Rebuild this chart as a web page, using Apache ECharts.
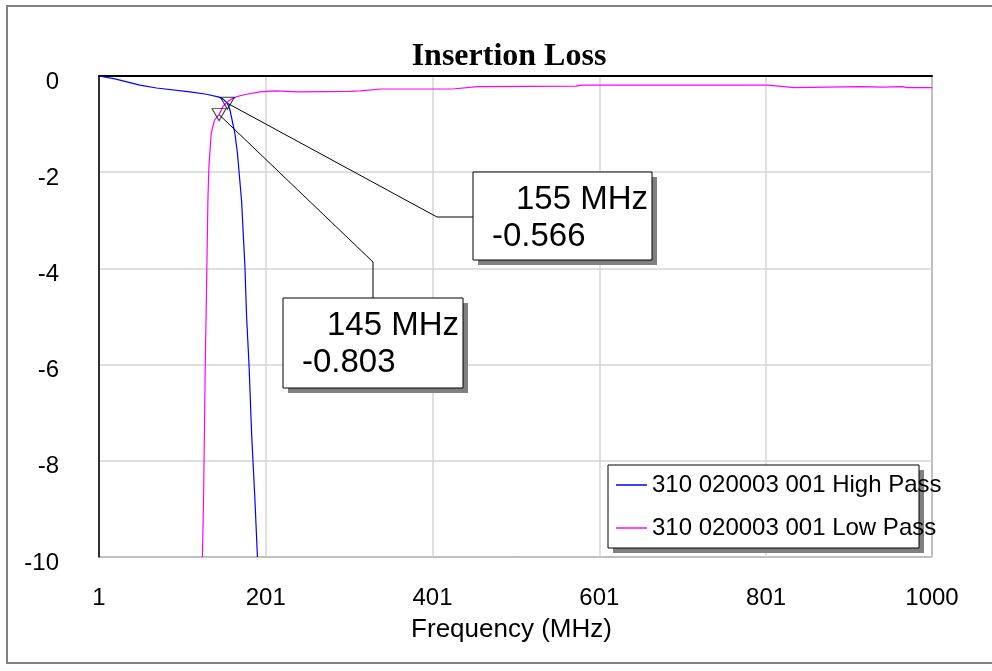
<!DOCTYPE html>
<html>
<head>
<meta charset="utf-8">
<script src="https://cdn.jsdelivr.net/npm/echarts@6/dist/echarts.min.js"></script>
<style>
html,body{margin:0;padding:0;background:#fff;}
#chart{width:992px;height:671px;}
</style>
</head>
<body>
<div id="chart"></div>
<script>
const titleText = 'Insertion Loss';
const xName = 'Frequency (MHz)';
const xTicks = [1, 201, 401, 601, 801, 1000];
const yMin = -10, yMax = 0, yStep = 2;
const seriesNames = ['310 020003 001 High Pass', '310 020003 001 Low Pass'];
const seriesColors = ['#0000ff', '#ff00ff'];

const highPass = [
  [1, 0], [20, -0.06], [50, -0.19], [70, -0.25], [110, -0.33], [130, -0.38],
  [145, -0.44], [150, -0.48], [155, -0.566], [158, -0.7], [161, -0.95],
  [164, -1.2], [167, -1.6], [170, -2.2], [172, -2.6], [176, -3.96],
  [178, -5.0], [181, -6.04], [184, -7.43], [188, -8.81], [191, -10]
];
const lowPass = [
  [125, -10], [126.4, -8.81], [128.4, -6.04], [130.4, -3.96], [131.6, -2.58],
  [132.8, -1.89], [135.6, -1.19], [139.6, -0.91], [145, -0.803], [150, -0.62],
  [155, -0.54], [160, -0.48], [166, -0.43], [178, -0.38], [194, -0.33],
  [212, -0.31], [240, -0.33], [300, -0.32], [314, -0.31], [340, -0.27],
  [425, -0.27], [455, -0.22], [573, -0.21], [580, -0.19], [803, -0.19],
  [805, -0.21], [835, -0.24], [914, -0.22], [940, -0.23], [965, -0.22],
  [970, -0.24], [1000, -0.24]
];
const markerPoints = [[155, -0.566], [145, -0.803]];
const markerLabels = [['155 MHz', '-0.566'], ['145 MHz', '-0.803']];

const chart = echarts.init(document.getElementById('chart'));
const font = 'Liberation Sans, Arial, sans-serif';

const option = {
  animation: false,
  backgroundColor: '#fff',
  grid: { left: 99, top: 76, right: 60, bottom: 114, show: true, borderColor: '#000', borderWidth: 1, backgroundColor: 'transparent' },
  legend: {
    data: seriesNames,
    orient: 'vertical',
    left: 616,
    top: 473,
    padding: 0,
    itemGap: 19,
    itemWidth: 31,
    itemHeight: 1.5,
    icon: 'rect',
    z: 20,
    textStyle: { fontFamily: font, fontSize: 24, lineHeight: 24, color: '#000' }
  },
  xAxis: {
    type: 'value',
    min: 1,
    max: 1000,
    name: xName,
    nameLocation: 'middle',
    nameGap: 60,
    nameTextStyle: { fontFamily: font, fontSize: 26, color: '#000', padding: [0, 8, 0, 0] },
    axisLine: { show: true, lineStyle: { color: '#000', width: 2 } },
    axisTick: { show: false, customValues: xTicks },
    axisLabel: { customValues: xTicks, formatter: v => String(v), fontFamily: font, fontSize: 24, color: '#000', margin: 29 },
    splitLine: { show: true, lineStyle: { color: '#d4d4d4', width: 1.5 } }
  },
  yAxis: {
    type: 'value',
    min: yMin,
    max: yMax,
    interval: yStep,
    axisLine: { show: true, lineStyle: { color: '#000', width: 1.5 } },
    axisTick: { show: false },
    axisLabel: { fontFamily: font, fontSize: 24, color: '#000', margin: 40, verticalAlign: 'top', lineHeight: 12 },
    splitLine: { show: true, lineStyle: { color: '#d4d4d4', width: 1.5 } }
  },
  series: [
    { name: seriesNames[0], type: 'line', data: highPass, showSymbol: false, color: seriesColors[0], lineStyle: { width: 1.2, color: seriesColors[0] }, z: 3 },
    { name: seriesNames[1], type: 'line', data: lowPass, showSymbol: false, color: seriesColors[1], lineStyle: { width: 1.2, color: seriesColors[1] }, z: 3 },
    { name: 'markers', type: 'scatter', data: markerPoints, symbol: 'triangle', symbolRotate: 180, symbolSize: [14, 12],
      itemStyle: { color: 'none', borderColor: '#000', borderWidth: 1 }, z: 5, silent: true }
  ]
};
chart.setOption(option);

const p1 = chart.convertToPixel({ gridIndex: 0 }, markerPoints[0]);
const p2 = chart.convertToPixel({ gridIndex: 0 }, markerPoints[1]);

const boxes = [
  { x: 473, y: 172, w: 179, h: 88 },
  { x: 283, y: 298, w: 180, h: 90 }
];
function boxEls(b, lab) {
  return [
    { type: 'rect', shape: { x: b.x + 5, y: b.y + 5, width: b.w, height: b.h }, style: { fill: '#808080' }, z: 10 },
    { type: 'rect', shape: { x: b.x, y: b.y, width: b.w, height: b.h }, style: { fill: '#fff', stroke: '#000', lineWidth: 1 }, z: 11 },
    { type: 'text', x: b.x + b.w - 4, y: b.y + 28, style: { text: lab[0], font: '33px ' + font, fill: '#000', textAlign: 'right', textVerticalAlign: 'middle' }, z: 12 },
    { type: 'text', x: b.x + 19, y: b.y + 65, style: { text: lab[1], font: '33px ' + font, fill: '#000', textAlign: 'left', textVerticalAlign: 'middle' }, z: 12 }
  ];
}

chart.setOption({
  graphic: [
    { type: 'rect', shape: { x: 7, y: 6, width: 1000, height: 657 }, style: { fill: 'none', stroke: '#808080', lineWidth: 2 }, z: 1 },
    { type: 'text', x: 509, y: 57, style: { text: titleText, font: 'bold 32px Liberation Serif, Times New Roman, serif', fill: '#000', textAlign: 'center', textVerticalAlign: 'middle' }, z: 2 },
    { type: 'polyline', shape: { points: [p1, [437, 217], [473, 217]] }, style: { stroke: '#000', lineWidth: 1, fill: 'none' }, z: 9 },
    { type: 'polyline', shape: { points: [p2, [373, 262], [373, 298]] }, style: { stroke: '#000', lineWidth: 1, fill: 'none' }, z: 9 },
    ...boxEls(boxes[0], markerLabels[0]),
    ...boxEls(boxes[1], markerLabels[1]),
    { type: 'rect', shape: { x: 613, y: 470, width: 311, height: 83 }, style: { fill: '#808080' }, z: 13 },
    { type: 'rect', shape: { x: 608, y: 465, width: 311, height: 83 }, style: { fill: '#fff', stroke: '#000', lineWidth: 1 }, z: 14 }
  ]
});
</script>
</body>
</html>
